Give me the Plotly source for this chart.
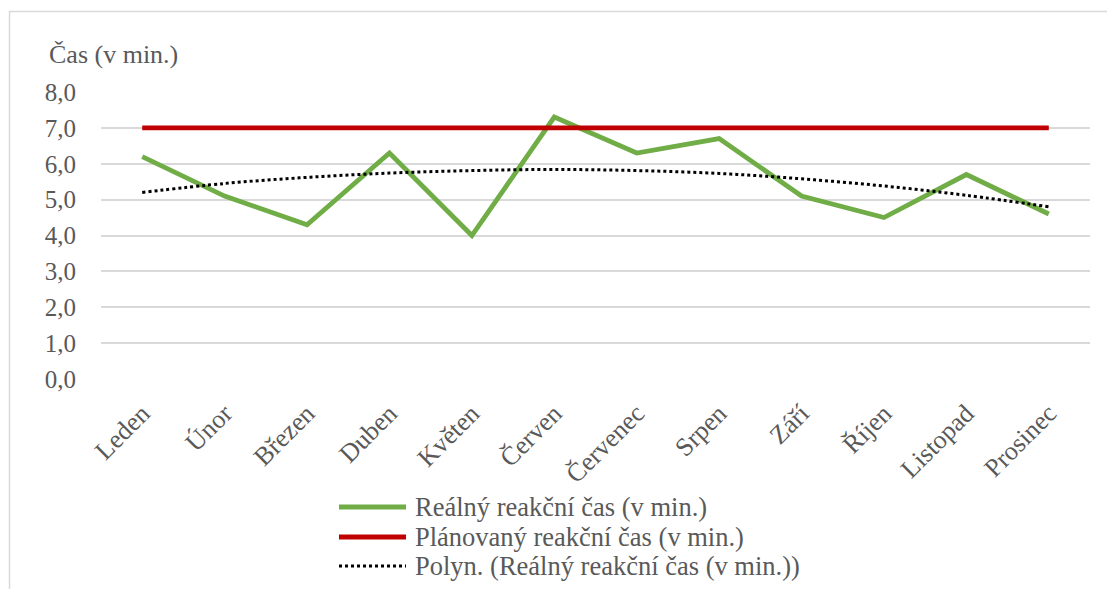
import plotly.graph_objects as go

months = ["Leden", "Únor", "Březen", "Duben", "Květen", "Červen",
          "Červenec", "Srpen", "Září", "Říjen", "Listopad", "Prosinec"]
real_time = [6.2, 5.1, 4.3, 6.3, 4.0, 7.3, 6.3, 6.7, 5.1, 4.5, 5.7, 4.6]
planned_time = [7.0] * 12
trend_time = [5.2, 5.45, 5.62, 5.74, 5.81, 5.84, 5.81, 5.73, 5.58, 5.38, 5.12, 4.8]
y_ticks = [0, 1, 2, 3, 4, 5, 6, 7, 8]
y_tick_labels = ["0,0", "1,0", "2,0", "3,0", "4,0", "5,0", "6,0", "7,0", "8,0"]

series_names = ["Reálný reakční čas (v min.)",
                "Plánovaný reakční čas (v min.)",
                "Polyn. (Reálný reakční čas (v min.))"]
series_styles = [dict(color="#70ad47", width=4.8),
                 dict(color="#c00000", width=4.8),
                 dict(color="#000000", width=3, dash="dot")]

W, H = 1107, 589
L, R, T, B = 101, 17, 92, 210
pw, ph = W - L - R, H - T - B

font_family = "Times New Roman, Liberation Serif, serif"
text_color = "#595959"
grid_color = "#d9d9d9"
fs = 26

fig = go.Figure()
fig.add_trace(go.Scatter(
    x=months, y=real_time, mode="lines", name=series_names[0],
    line=series_styles[0], showlegend=False,
))
fig.add_trace(go.Scatter(
    x=months, y=planned_time, mode="lines", name=series_names[1],
    line=series_styles[1], showlegend=False,
))
fig.add_trace(go.Scatter(
    x=months, y=trend_time, mode="lines", name=series_names[2],
    line=dict(series_styles[2], shape="spline"), showlegend=False,
))

def px_x(px):
    return (px - L) / pw

def px_y(py):
    return 1 - (py - T) / ph

# chart-area border
shapes = [dict(
    type="rect", xref="paper", yref="paper",
    x0=px_x(9.5), x1=px_x(1112), y0=px_y(594), y1=px_y(11.5),
    line=dict(color=grid_color, width=1.5), fillcolor="rgba(0,0,0,0)",
    layer="below",
)]
annotations = [dict(
    text="Čas (v min.)", xref="paper", yref="paper",
    x=px_x(47), y=px_y(55), xanchor="left", yanchor="middle",
    showarrow=False, font=dict(family=font_family, size=fs, color=text_color),
)]

# legend below the plot: sample line + label per series
legend_rows = [507, 537, 566]
for name, style, row in zip(series_names, series_styles, legend_rows):
    shapes.append(dict(
        type="line", xref="paper", yref="paper",
        x0=px_x(339), x1=px_x(406), y0=px_y(row), y1=px_y(row),
        line=style,
    ))
    annotations.append(dict(
        text=name, xref="paper", yref="paper",
        x=px_x(413), y=px_y(row), xanchor="left", yanchor="middle",
        showarrow=False, font=dict(family=font_family, size=26.5, color=text_color),
    ))

fig.update_layout(
    width=W, height=H,
    margin=dict(l=L, r=R, t=T, b=B, autoexpand=False),
    paper_bgcolor="white", plot_bgcolor="white",
    font=dict(family=font_family, size=fs, color=text_color),
    showlegend=False,
    xaxis=dict(
        type="category", tickangle=-45, showgrid=False, zeroline=False,
        showline=False, ticks="", ticklabelstandoff=13,
        tickfont=dict(family=font_family, size=fs, color=text_color),
        range=[-0.5, 11.5],
    ),
    yaxis=dict(
        range=[0, 8], tickvals=y_ticks, ticktext=y_tick_labels,
        showgrid=True, gridcolor=grid_color, gridwidth=1.5,
        zeroline=False, showline=False, ticks="",
        ticklabelstandoff=24,
        tickfont=dict(family=font_family, size=25, color=text_color),
    ),
    shapes=shapes,
    annotations=annotations,
)

fig.write_html("out.html")
